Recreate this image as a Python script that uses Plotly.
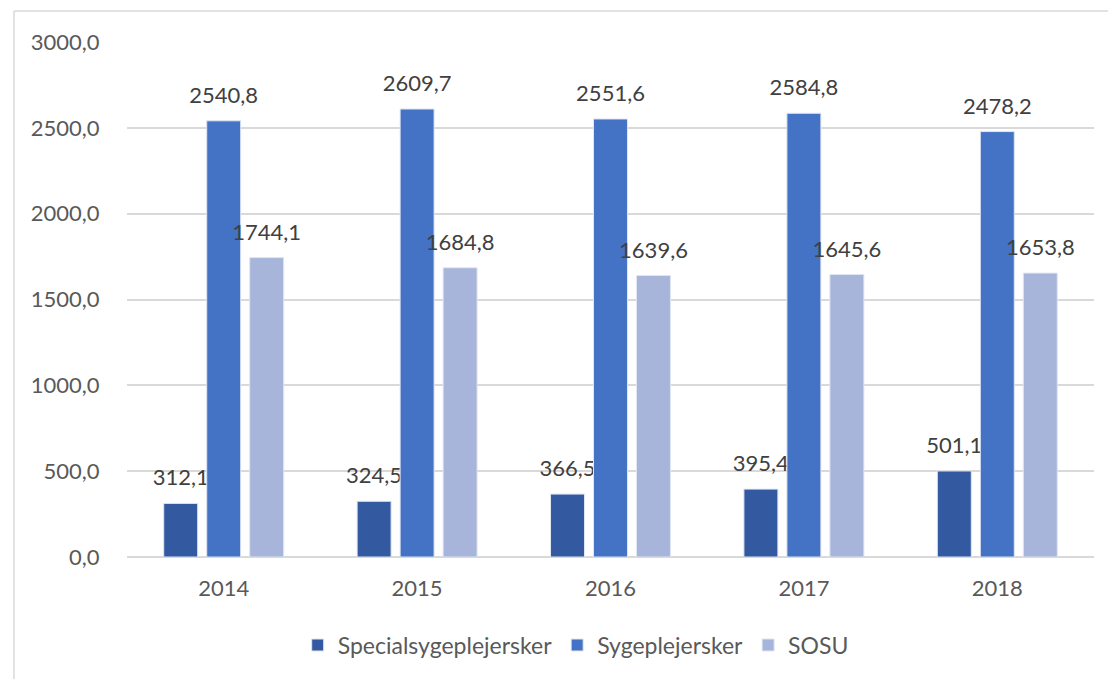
import plotly.graph_objects as go

years = ["2014", "2015", "2016", "2017", "2018"]
special = [312.1, 324.5, 366.5, 395.4, 501.1]
sygepl = [2540.8, 2609.7, 2551.6, 2584.8, 2478.2]
sosu = [1744.1, 1684.8, 1639.6, 1645.6, 1653.8]
series_names = ["Specialsygeplejersker", "Sygeplejersker", "SOSU"]
colors = ["#335aa1", "#4472c4", "#a7b5db"]
tick_vals = [0, 500, 1000, 1500, 2000, 2500, 3000]

FONT = "Lato"
FS = 22
fig = go.Figure()
all_series = [special, sygepl, sosu]
for name, vals, col in zip(series_names, all_series, colors):
    fig.add_trace(go.Bar(
        x=years, y=vals, name=name,
        marker=dict(color=col, line=dict(color="#dfe5f2", width=1)),
        texttemplate="<span style='font-size:22px'>%{y:.1f}</span><br><span style='color:rgba(0,0,0,0)'>.</span>",
        textposition="outside", constraintext="none", cliponaxis=False,
        textfont=dict(family=FONT, size=10, color="#404040"),
    ))

fig.update_layout(
    width=1100, height=671,
    margin=dict(l=119, r=14, t=34, b=122, autoexpand=False),
    paper_bgcolor="white", plot_bgcolor="white",
    barmode="group", bargap=0.333, bargroupgap=0.21,
    separators=",.",
    legend=dict(orientation="h", x=0.464, xanchor="center", y=-0.171, yanchor="middle",
                font=dict(family=FONT, size=23, color="#595959")),
    shapes=[
        dict(type="line", xref="paper", yref="paper", x0=-0.1169, x1=1.03, y0=1.0602, y1=1.0602,
             line=dict(color="#d9d9d9", width=1.5)),
        dict(type="line", xref="paper", yref="paper", x0=-0.1169, x1=-0.1169, y0=1.0602, y1=-0.26,
             line=dict(color="#d9d9d9", width=1.5)),
    ],
)
fig.update_yaxes(range=[0, 3000], tickvals=tick_vals, tickformat=".1f", automargin=False,
                 gridcolor="#d9d9d9", gridwidth=1.5, zerolinecolor="#d9d9d9", zerolinewidth=1.5,
                 ticks="outside", ticklen=22, tickcolor="rgba(0,0,0,0)",
                 tickfont=dict(family=FONT, size=FS, color="#595959"))
fig.update_xaxes(type="category", automargin=False,
                 ticks="outside", ticklen=12, tickcolor="rgba(0,0,0,0)",
                 tickfont=dict(family=FONT, size=FS, color="#595959"))

fig.write_html("out.html")
